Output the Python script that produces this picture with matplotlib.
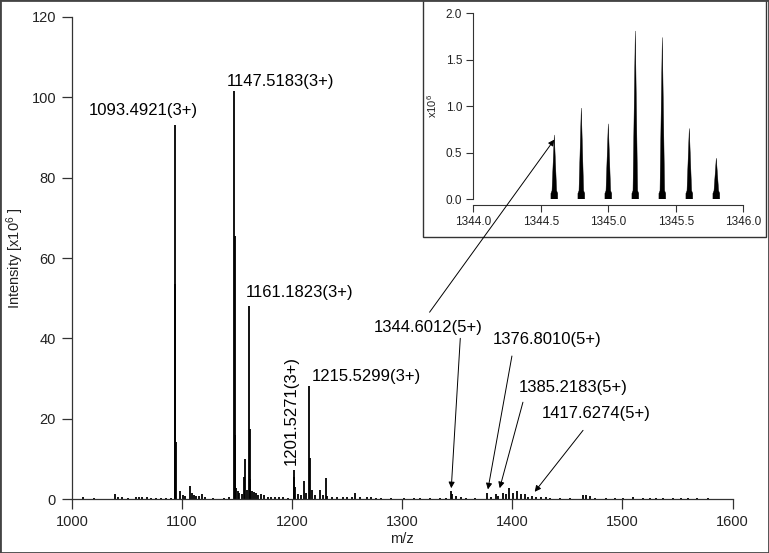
import matplotlib.pyplot as plt
from matplotlib.patches import Rectangle

plt.rcParams['font.family'] = ['Liberation Sans', 'DejaVu Sans']
plt.rcParams['mathtext.fontset'] = 'custom'
plt.rcParams['mathtext.rm'] = 'Liberation Sans'

# main spectrum: m/z and intensity (x10^6)
mz = [1009.7, 1020, 1039, 1041.5, 1045, 1050.5, 1058, 1061, 1064, 1068, 1072, 1076,
      1081, 1085.5, 1090,
      1093.49, 1093.83, 1094.16,
      1098, 1100.5, 1103, 1107.3, 1109, 1111, 1113, 1115.7, 1118, 1120.5, 1127.8,
      1138.5, 1143,
      1147.52, 1147.85, 1148.19, 1149, 1150.5, 1152, 1154, 1156.5, 1157.5, 1159,
      1161.18, 1161.52, 1161.85, 1163.5, 1165, 1167, 1169, 1171.8, 1174.8, 1178,
      1181, 1184, 1188, 1192, 1196,
      1201.53, 1201.87, 1202.5, 1205, 1208, 1211.2, 1213,
      1215.53, 1215.87, 1218, 1221, 1225.4, 1228, 1230.3, 1232, 1236, 1241, 1246,
      1250, 1254, 1257.5, 1262, 1268, 1271.8, 1276, 1281, 1290, 1302, 1311,
      1315.7, 1324.8, 1334, 1340,
      1344.6, 1345.5, 1348.5, 1353.6, 1358, 1366,
      1376.8, 1381, 1385.2, 1387, 1391.5, 1394.5, 1397, 1400.5, 1404.2, 1408.2,
      1411.2, 1414, 1417.6, 1421.8, 1426.4, 1430.3, 1434, 1443, 1452,
      1464.2, 1467.3, 1470.3, 1474.8, 1485.2, 1493, 1500.5, 1509.6, 1518.7,
      1524.8, 1530.9, 1537, 1546, 1553.6, 1559.6, 1567.3, 1577.8]
intensity = [0.5, 0.2, 1.3, 0.6, 0.5, 0.3, 0.6, 0.4, 0.5, 0.4, 0.3, 0.3,
             0.3, 0.3, 0.3,
             93, 53.5, 14.3,
             2.0, 1.0, 0.8, 3.3, 1.5, 1.0, 0.8, 0.7, 1.2, 0.5, 0.3,
             0.3, 0.5,
             101.5, 65.5, 16, 2.7, 2.0, 1.5, 1.2, 5.6, 10, 2.2,
             48, 17.5, 5.0, 2.0, 1.8, 1.5, 1.0, 1.2, 1.0, 0.6,
             0.5, 0.5, 0.4, 0.4, 0.3,
             7.2, 5.5, 3.0, 1.2, 1.0, 4.6, 1.5,
             28.2, 10.2, 2.2, 1.0, 2.2, 1.0, 5.3, 0.8, 0.6, 0.5, 0.6,
             0.5, 0.6, 1.5, 0.5, 0.4, 0.5, 0.3, 0.3, 0.3, 0.3, 0.3,
             0.3, 0.3, 0.2, 0.3,
             2.1, 1.3, 0.7, 0.5, 0.3, 0.2,
             1.4, 0.4, 1.2, 0.8, 1.6, 1.2, 2.7, 1.5, 2.1, 1.3,
             1.2, 0.6, 0.8, 0.6, 0.4, 0.4, 0.2, 0.2, 0.2,
             1.0, 1.1, 0.8, 0.3, 0.3, 0.2, 0.3, 0.4, 0.3,
             0.2, 0.3, 0.2, 0.3, 0.2, 0.3, 0.2, 0.2]

# plain peak labels (text, x, y)
plain_labels = ['1093.4921(3+)', '1147.5183(3+)', '1161.1823(3+)', '1215.5299(3+)']
plain_x = [1015.5, 1140.3, 1157.5, 1218.2]
plain_y = [96.8, 104, 51.5, 30.6]

# arrow labels (text, text x, text y, arrow start, arrow tip)
arrow_labels = ['1344.6012(5+)', '1376.8010(5+)', '1385.2183(5+)', '1417.6274(5+)']
arrow_text_x = [1273.9, 1381.8, 1406.0, 1426.4]
arrow_text_y = [42.75, 39.75, 27.7, 21.4]
arrow_start_x = [1352.7, 1399.6, 1409.6, 1464.2]
arrow_start_y = [40, 35.6, 24.1, 17.1]
arrow_tip_x = [1344.5, 1377.8, 1388.5, 1420.3]
arrow_tip_y = [2.7, 2.4, 2.7, 1.8]

# inset: isotope cluster of 1344.6012 (5+)
inset_mz = [1344.6, 1344.8, 1345.0, 1345.2, 1345.4, 1345.6, 1345.8]
inset_int = [0.69, 0.98, 0.81, 1.81, 1.74, 0.76, 0.44]

fig = plt.figure(figsize=(7.69, 5.53), dpi=100)
tick_col = '#222222'

ax = fig.add_axes([0.0936, 0.0976, 0.859, 0.8717])
ax.set_zorder(1)
ax.vlines(mz, 0, intensity, color='black', lw=1.3)
ax.set_xlim(1000, 1600)
ax.set_ylim(0, 120)
ax.set_xticks([1000, 1100, 1200, 1300, 1400, 1500, 1600])
ax.set_yticks([0, 20, 40, 60, 80, 100, 120])
ax.spines['top'].set_visible(False)
ax.spines['right'].set_visible(False)
for s in ['left', 'bottom']:
    ax.spines[s].set_color('#333333')
    ax.spines[s].set_linewidth(0.9)
ax.tick_params(direction='out', length=7.5, width=0.9, color='#333333',
               labelsize=10.5, labelcolor=tick_col, pad=4)
ax.set_xlabel('m/z', fontsize=10.5, color=tick_col, labelpad=2)
ax.set_ylabel(r'Intensity [x10$\mathregular{^6}$ ]', fontsize=10.5, color=tick_col, labelpad=4)

for t, x, y in zip(plain_labels, plain_x, plain_y):
    ax.text(x, y, t, fontsize=12, ha='left', va='center')
ax.text(1199.4, 8.5, '1201.5271(3+)', fontsize=12, rotation=90, ha='center', va='bottom')

for i in range(len(arrow_labels)):
    ax.text(arrow_text_x[i], arrow_text_y[i], arrow_labels[i], fontsize=12,
            ha='left', va='center')
    ax.annotate('', xy=(arrow_tip_x[i], arrow_tip_y[i]),
                xytext=(arrow_start_x[i], arrow_start_y[i]),
                arrowprops=dict(arrowstyle='-|>', color='black', lw=0.7,
                                mutation_scale=9, shrinkA=0, shrinkB=0))

# inset frame
frame = Rectangle((0.550, 0.5714), 0.446, 0.4286, transform=fig.transFigure,
                  facecolor='white', edgecolor='#333333', lw=1.0, zorder=2)
fig.add_artist(frame)

axin = fig.add_axes([0.6155, 0.6401, 0.3511, 0.3358])
axin.set_zorder(3)
for c, h in zip(inset_mz, inset_int):
    axin.fill([c - 0.025, c - 0.025, c - 0.017, c, c + 0.017, c + 0.025, c + 0.025],
              [0, 0.06, 0.09, h, 0.09, 0.06, 0], color='black', lw=0.3)
axin.set_xlim(1344.0, 1346.0)
axin.set_ylim(0, 2.0)
axin.set_xticks([1344.0, 1344.5, 1345.0, 1345.5, 1346.0])
axin.set_yticks([0.0, 0.5, 1.0, 1.5, 2.0])
axin.xaxis.set_major_formatter('{x:.1f}')
axin.yaxis.set_major_formatter('{x:.1f}')
axin.spines['top'].set_visible(False)
axin.spines['right'].set_visible(False)
axin.spines['bottom'].set_position(('outward', 4))
for s in ['left', 'bottom']:
    axin.spines[s].set_color('#333333')
    axin.spines[s].set_linewidth(0.8)
axin.tick_params(direction='out', length=5, width=0.8, color='#333333',
                 labelsize=8.5, labelcolor=tick_col, pad=3)
axin.set_ylabel(r'x10$\mathregular{^6}$', fontsize=8, color=tick_col, labelpad=5)

# long arrow from the 1344 label into the inset
axin.annotate('', xy=(1344.6, 0.64), xycoords='data',
              xytext=(1324.8, 46.5), textcoords=ax.transData,
              arrowprops=dict(arrowstyle='-|>', color='black', lw=0.7,
                              mutation_scale=9, shrinkA=0, shrinkB=0),
              annotation_clip=False)

# outer border
fig.add_artist(Rectangle((0, 0), 1, 1, transform=fig.transFigure, fill=False,
                         edgecolor='#444444', lw=2, zorder=5))

fig.savefig('out.png', dpi=100)
